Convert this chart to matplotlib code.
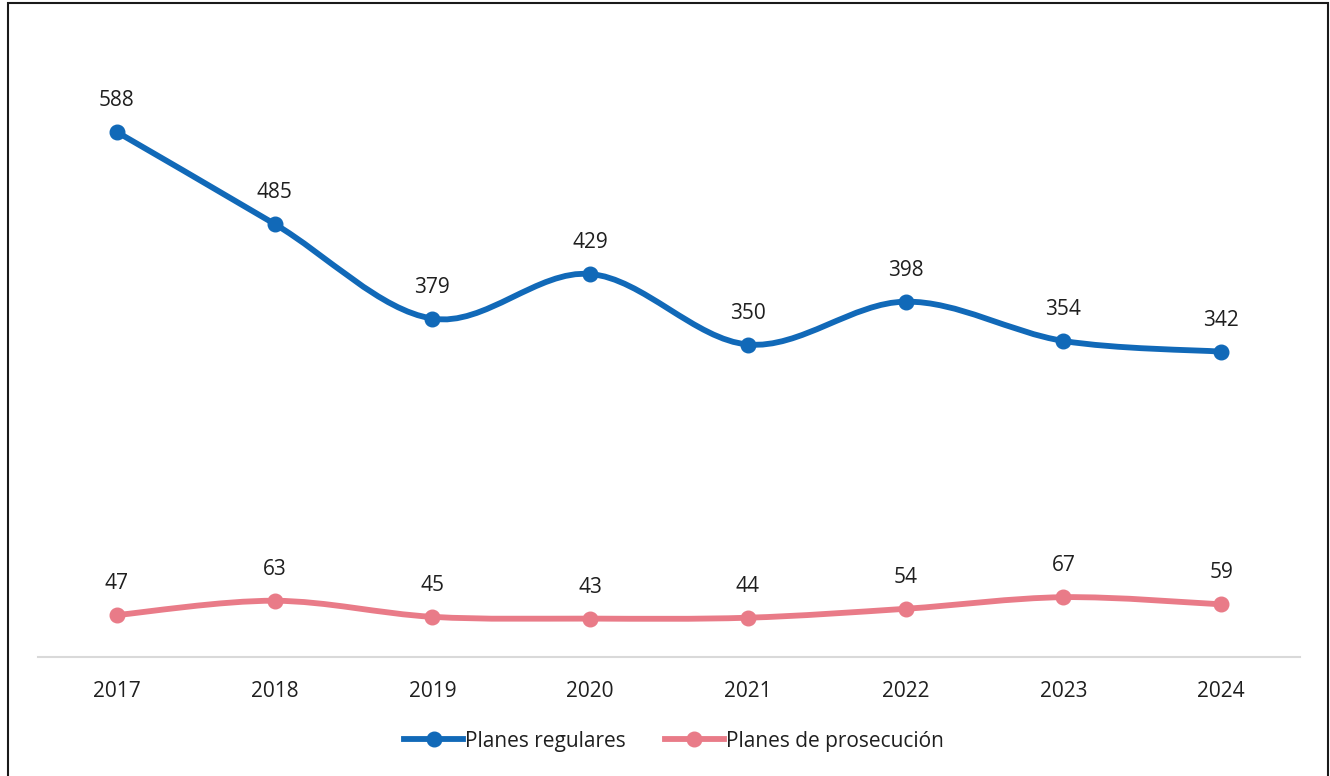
"""Planes regulares vs planes de prosecucion, 2017-2024."""

import numpy as np
import matplotlib.pyplot as plt
from matplotlib.path import Path
from matplotlib.patches import PathPatch, Rectangle
from matplotlib.lines import Line2D

years = ["2017", "2018", "2019", "2020", "2021", "2022", "2023", "2024"]
regulares = [588, 485, 379, 429, 350, 398, 354, 342]
prosecucion = [47, 63, 45, 43, 44, 54, 67, 59]

BLUE = "#1169B8"
PINK = "#E97B88"
TXT = "#1f1f1f"

plt.rcParams["font.family"] = ["Open Sans", "DejaVu Sans"]


def smooth_path(xs, ys):
    """Excel-like smoothed line: cubic bezier through every point."""
    pts = np.column_stack([xs, ys]).astype(float)
    n = len(pts)
    verts = [pts[0]]
    codes = [Path.MOVETO]
    for i in range(n - 1):
        p0 = pts[i - 1] if i > 0 else pts[i]
        p1 = pts[i]
        p2 = pts[i + 1]
        p3 = pts[i + 2] if i + 2 < n else pts[i + 1]
        c1 = p1 + (p2 - p0) / 6.0
        c2 = p2 - (p3 - p1) / 6.0
        verts += [c1, c2, p2]
        codes += [Path.CURVE4] * 3
    return Path(verts, codes)


fig = plt.figure(figsize=(13.3, 7.76), dpi=100)
ax = fig.add_axes([38 / 1330, 1 - 657 / 776, 1262 / 1330, 625 / 776])

x = np.arange(len(years))
for vals, col in [(regulares, BLUE), (prosecucion, PINK)]:
    ax.add_patch(PathPatch(smooth_path(x, vals), facecolor="none",
                           edgecolor=col, lw=4.2, capstyle="round"))
    ax.plot(x, vals, "o", color=col, ms=10.5, zorder=3)
    for xi, v in zip(x, vals):
        ax.annotate(str(v), (xi, v), xytext=(0, 15), textcoords="offset points",
                    ha="center", va="bottom", fontsize=15, color=TXT)

ax.set_xlim(-0.5, len(years) - 0.5)
ax.set_ylim(0, 700)
ax.set_xticks(x)
ax.set_xticklabels(years, fontsize=15, color=TXT)
ax.set_yticks([])
ax.tick_params(axis="x", length=0, pad=17)
for s in ["top", "left", "right"]:
    ax.spines[s].set_visible(False)
ax.spines["bottom"].set_color("#D9D9D9")
ax.spines["bottom"].set_linewidth(1.5)

handles = [
    Line2D([], [], color=BLUE, lw=4.2, marker="o", ms=10.5),
    Line2D([], [], color=PINK, lw=4.2, marker="o", ms=10.5),
]
fig.legend(handles, ["Planes regulares", "Planes de prosecución"],
           loc="center", bbox_to_anchor=(674 / 1330, 1 - 741 / 776),
           ncol=2, frameon=False, fontsize=15, handlelength=2.8,
           handletextpad=0.1, columnspacing=1.9, labelcolor=TXT)

# outer frame
fig.patches.append(Rectangle((8 / 1330, -0.01), 1320 / 1330, 1 - 3 / 776 + 0.01,
                             transform=fig.transFigure, fill=False,
                             edgecolor="#1a1a1a", lw=1.5))

fig.savefig("out.png", dpi=100)
